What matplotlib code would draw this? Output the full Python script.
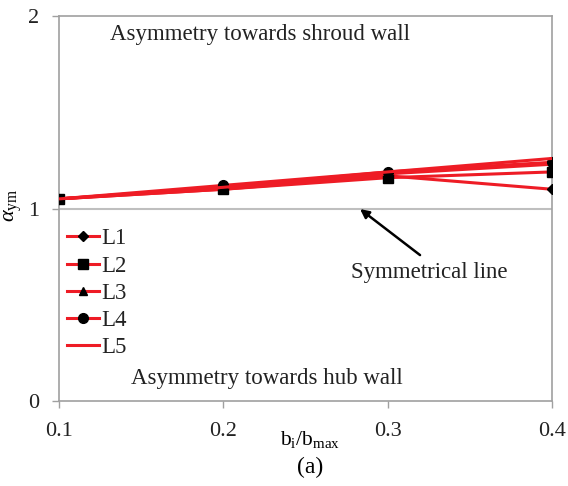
import matplotlib
matplotlib.use("Agg")
from matplotlib import pyplot as plt

plt.rcParams['font.family'] = ['Liberation Serif', 'DejaVu Serif']
plt.rcParams['mathtext.fontset'] = 'custom'
plt.rcParams['mathtext.rm'] = 'Liberation Serif'
plt.rcParams['mathtext.it'] = 'Liberation Serif:italic'

x = [0.1, 0.2, 0.3, 0.4]
labels = ['L1', 'L2', 'L3', 'L4', 'L5']
L1 = [1.05, 1.10, 1.17, 1.10]
L2 = [1.05, 1.10, 1.16, 1.19]
L3 = [1.05, 1.11, 1.18, 1.23]
L4 = [1.05, 1.12, 1.19, 1.24]
L5 = [1.05, 1.11, 1.19, 1.26]
series = [L1, L2, L3, L4, L5]
markers = ['D', 's', '^', 'o', None]
msizes = [5, 7, 6, 7, 0]

fig = plt.figure(figsize=(5.68, 4.86), dpi=100)
ax = fig.add_axes([59 / 568, 1 - 401 / 486, (552 - 59) / 568, (401 - 16) / 486])

# gridline at 1 (symmetrical line)
ax.axhline(1, color='#bfbfbf', lw=1.5, zorder=1)

for vals, lab, m, ms in zip(series, labels, markers, msizes):
    ax.plot(x, vals, color='#ee1c25', lw=2.2, marker=m, markersize=ms,
            markerfacecolor='black', markeredgecolor='black', label=lab, zorder=3)

ax.set_xlim(0.1, 0.4)
ax.set_ylim(0, 2)
ax.set_xticks(x)
ax.set_xticklabels(['0.1', '0.2', '0.3', '0.4'])
ax.set_yticks([0, 1, 2])
for s in ax.spines.values():
    s.set_color('#a0a0a0')
    s.set_linewidth(1.2)
ax.tick_params(axis='both', colors='#a0a0a0', labelcolor='#222222', labelsize=16,
               length=5, width=1)
ax.tick_params(axis='x', pad=10)
ax.tick_params(axis='y', pad=9)

# y label placed in figure coords so it is not clipped
fig.text(13 / 568, 1 - 205 / 486, r'$\alpha_{\mathrm{ym}}$', fontsize=16,
         rotation=90, ha='center', va='center')
fig.text(310 / 568, 1 - 439 / 486, r'$\mathrm{b_i/b_{max}}$', fontsize=15.5,
         ha='center', va='center')
fig.text(310 / 568, 1 - 467 / 486, '(a)', fontsize=17, ha='center', va='center')

ax.text(0.2223, 1.906, 'Asymmetry towards shroud wall', fontsize=16.5,
        ha='center', va='center', color='#222222')
ax.text(0.2266, 0.119, 'Asymmetry towards hub wall', fontsize=16.5,
        ha='center', va='center', color='#222222')
ax.text(0.3252, 0.670, 'Symmetrical line', fontsize=16.5,
        ha='center', va='center', color='#222222')
ax.annotate('', xy=(0.2832, 0.997), xytext=(0.3197, 0.758),
            arrowprops=dict(arrowstyle='-|>', color='black', lw=1.8,
                            mutation_scale=13, shrinkA=0, shrinkB=0))

leg = ax.legend(loc='upper left', bbox_to_anchor=(-0.017, 0.49), frameon=False,
                fontsize=16.5, handlelength=1.4, handletextpad=0.1,
                labelspacing=0.27, borderaxespad=0.3)
for t in leg.get_texts():
    t.set_color('#222222')

fig.savefig('out.png', dpi=100)
